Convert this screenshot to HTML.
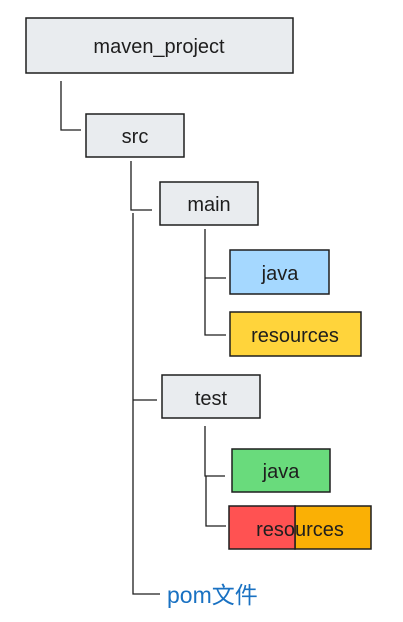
<!DOCTYPE html>
<html><head><style>
body{margin:0;background:#fff;width:403px;height:622px;overflow:hidden}
svg{display:block}
text{font-family:"Comic Sans MS","Liberation Sans","Noto Sans CJK SC",sans-serif;fill:#1e1e1e}
</style></head><body>
<svg width="403" height="622" viewBox="0 0 403 622">
<g stroke="#1e1e1e" stroke-width="1.5">
<rect x="26" y="18" width="267" height="55" fill="#e9ecef"/>
<rect x="86" y="114" width="98" height="43" fill="#e9ecef"/>
<rect x="160" y="182" width="98" height="43" fill="#e9ecef"/>
<rect x="230" y="250" width="99" height="44" fill="#a5d8ff"/>
<rect x="230" y="312" width="131" height="44" fill="#ffd43b"/>
<rect x="162" y="375" width="98" height="43" fill="#e9ecef"/>
<rect x="232" y="449" width="98" height="43" fill="#69db7c"/>
<rect x="295" y="506" width="76" height="43" fill="#fab005"/>
<rect x="229" y="506" width="66" height="43" fill="#ff5252"/>
</g>
<g stroke="#1e1e1e" stroke-width="1.3" fill="none">
<path d="M61 81V130H81"/>
<path d="M131 161V210H152"/>
<path d="M133 213V594H160M133 400H157"/>
<path d="M205 229V278H226M205 278V335H226"/>
<path d="M205 426V476H225M206 476V526H226"/>
</g>
<g font-size="20" text-anchor="middle">
<text x="159" y="53">maven_project</text>
<text x="135" y="143">src</text>
<text x="209" y="211">main</text>
<text x="280" y="280">java</text>
<text x="295" y="342">resources</text>
<text x="211" y="405">test</text>
<text x="281" y="478">java</text>
<text x="300" y="536">resources</text>
</g>
<text x="167" y="603" font-size="23" style="fill:#1971c2">pom文件</text>
</svg>
</body></html>
